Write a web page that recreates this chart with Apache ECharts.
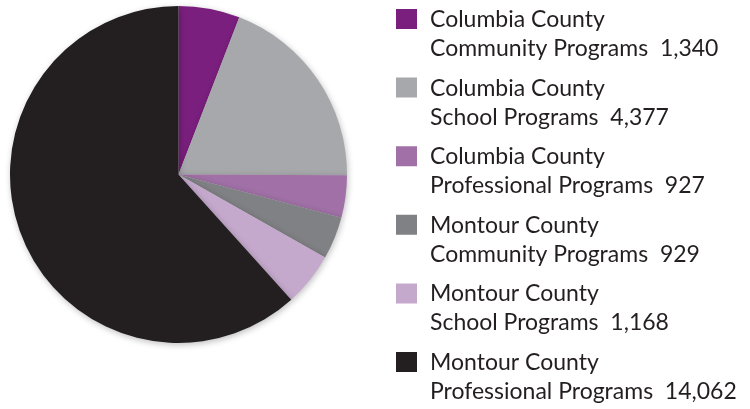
<!DOCTYPE html>
<html>
<head>
<meta charset="utf-8">
<script src="https://cdn.jsdelivr.net/npm/echarts@6/dist/echarts.min.js"></script>
<style>
  html, body { margin: 0; padding: 0; background: #fff; }
  #chart { width: 750px; height: 409px; }
</style>
</head>
<body>
<div id="chart"></div>
<script>
// data
const counties = ["Columbia County", "Columbia County", "Columbia County", "Montour County", "Montour County", "Montour County"];
const programs = ["Community Programs", "School Programs", "Professional Programs", "Community Programs", "School Programs", "Professional Programs"];
const values = [1340, 4377, 927, 929, 1168, 14062];
const colors = ["#7a1f7d", "#a7a8ab", "#a070a6", "#808184", "#c5a9cd", "#231f20"];

const names = counties.map((c, i) => c + " " + programs[i]);
const pieData = values.map((v, i) => ({ name: names[i], value: v }));

const chart = echarts.init(document.getElementById("chart"));
const option = {
  animation: false,
  color: colors,
  legend: {
    orient: "vertical",
    left: 396,
    top: 5,
    padding: 0,
    itemGap: 10.6,
    itemWidth: 29,
    itemHeight: 58,
    // square sits at top of a tall invisible box so it lines up with the first text line
    icon: "path://M0,4H21V24H0Z M0,0L0.01,0 M29,58L28.99,58",
    itemStyle: { borderWidth: 0 },
    selectedMode: false,
    textStyle: {
      fontFamily: "Lato",
      fontSize: 23,
      lineHeight: 29,
      color: "#231f20",
    },
    formatter: (name) => {
      const i = names.indexOf(name);
      return counties[i] + "\n" + programs[i] + "  " + values[i].toLocaleString("en-US");
    },
    data: names,
  },
  series: [
    {
      type: "pie",
      center: [178.5, 174.5],
      radius: 168.5,
      startAngle: 90,
      clockwise: true,
      label: { show: false },
      labelLine: { show: false },
      emphasis: { disabled: true },
      itemStyle: {
        borderWidth: 0,
        shadowBlur: 6,
        shadowColor: "rgba(0,0,0,0.25)",
        shadowOffsetX: 1,
        shadowOffsetY: 2,
      },
      data: pieData,
    },
  ],
};
chart.setOption(option);
</script>
</body>
</html>
